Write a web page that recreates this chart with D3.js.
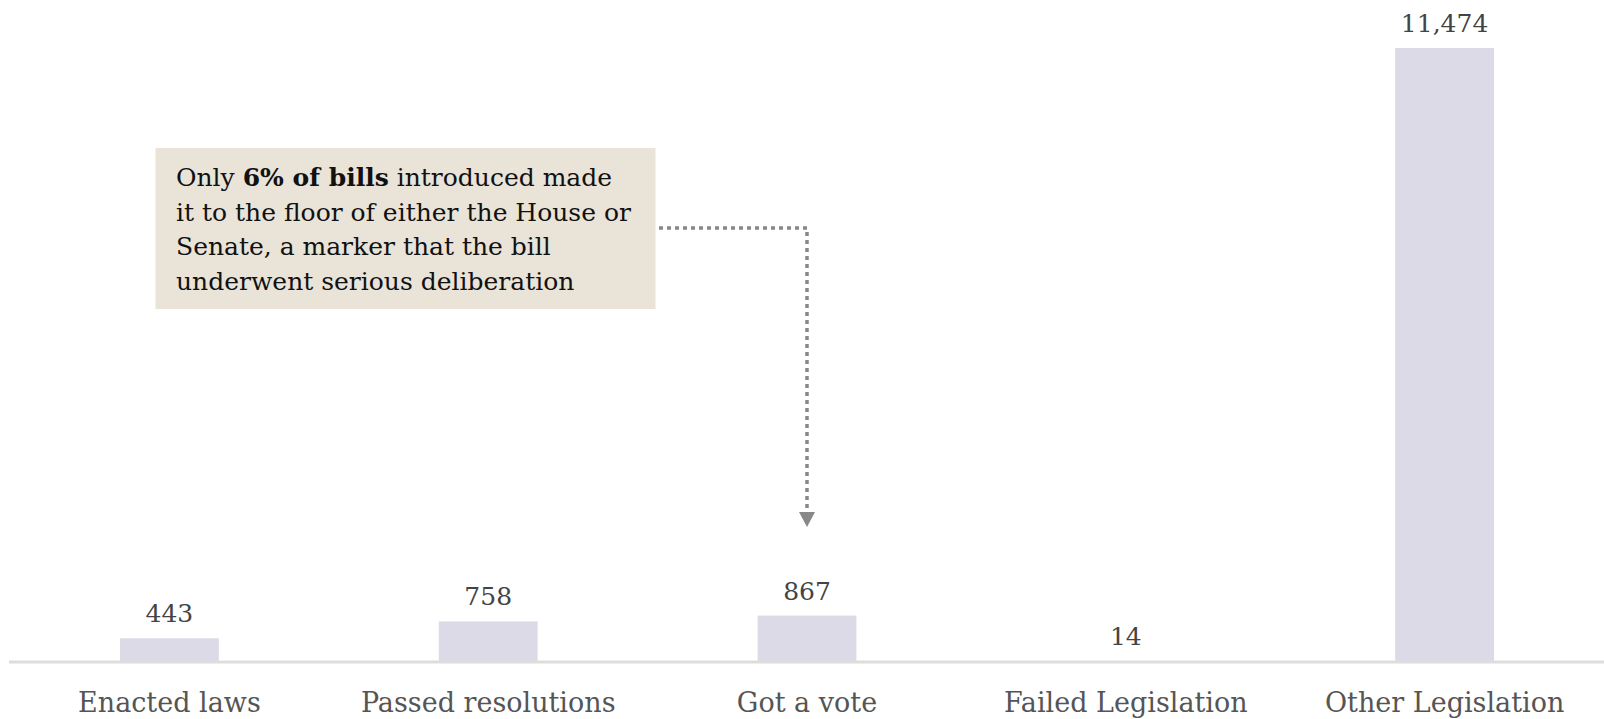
<!DOCTYPE html>
<html>
<head>
<meta charset="utf-8">
<script src="https://cdn.jsdelivr.net/npm/d3@7"></script>
<style>
  html, body { margin: 0; padding: 0; background: #fff; }
  svg { display: block; }
  text { font-family: "DejaVu Serif", "Liberation Serif", serif; }
</style>
</head>
<body>
<svg id="chart" width="1604" height="719"></svg>
<script>
// Bill outcomes breakdown
const categories = ["Enacted laws", "Passed resolutions", "Got a vote", "Failed Legislation", "Other Legislation"];
const counts = [443, 758, 867, 14, 11474];
const noteLines = [
  [["Only ", false], ["6% of bills", true], [" introduced made", false]],
  [["it to the floor of either the House or", false]],
  [["Senate, a marker that the bill", false]],
  [["underwent serious deliberation", false]]
];
const noteTarget = "Got a vote";

const W = 1604, H = 719;
const margin = { left: 10, right: 0, top: 48, baseline: 662 };
const serif = "DejaVu Serif, Liberation Serif, serif";

const svg = d3.select("#chart");

const x = d3.scaleBand()
  .domain(categories)
  .range([margin.left, W - margin.right])
  .paddingInner(0.69)
  .paddingOuter(0.345);

const y = d3.scaleLinear()
  .domain([0, d3.max(counts)])
  .range([margin.baseline, margin.top]);

const data = categories.map((c, i) => ({ cat: c, value: counts[i] }));

// bars
svg.append("g").selectAll("rect")
  .data(data)
  .join("rect")
  .attr("x", d => x(d.cat))
  .attr("width", x.bandwidth())
  .attr("y", d => y(d.value))
  .attr("height", d => y(0) - y(d.value))
  .attr("fill", "#dcdae6");

// baseline axis
const axis = d3.axisBottom(x).tickSize(0).tickPadding(0);
const gx = svg.append("g")
  .attr("transform", `translate(0,${margin.baseline})`)
  .call(axis);
gx.select(".domain").attr("stroke", "#dddddd").attr("stroke-width", 3)
  .attr("d", `M${margin.left - 1},0H${W}`);
gx.selectAll(".tick text")
  .attr("y", 50)
  .attr("dy", 0)
  .attr("font-family", serif)
  .attr("font-size", 27)
  .attr("fill", "#555555");

// value labels
const fmt = d3.format(",");
svg.append("g").selectAll("text")
  .data(data)
  .join("text")
  .attr("x", d => x(d.cat) + x.bandwidth() / 2)
  .attr("y", d => y(d.value) - 16)
  .attr("text-anchor", "middle")
  .attr("font-size", 25)
  .attr("fill", "#444444")
  .text(d => fmt(d.value));

// annotation box
const note = svg.append("g");
note.append("rect")
  .attr("x", 155.5).attr("y", 148)
  .attr("width", 500).attr("height", 161)
  .attr("fill", "#e9e3d8");

const tx = note.append("text")
  .attr("x", 176).attr("y", 186)
  .attr("font-size", 25)
  .attr("fill", "#111111");
noteLines.forEach((line, i) => {
  line.forEach(([s, bold], j) => {
    const t = tx.append("tspan").text(s);
    if (j === 0) t.attr("x", 176).attr("dy", i === 0 ? 0 : 34.7);
    if (bold) t.attr("font-weight", "bold");
  });
});

// leader from the note down to the target bar
const cx = x(noteTarget) + x.bandwidth() / 2;
const lineY = 228;
const arrowTip = 527;
svg.append("path")
  .attr("d", `M659,${lineY}H${cx}V${arrowTip - 16}`)
  .attr("fill", "none")
  .attr("stroke", "#888888")
  .attr("stroke-width", 3.5)
  .attr("stroke-dasharray", "4 4");
svg.append("path")
  .attr("d", `M${cx - 8},${arrowTip - 15}L${cx + 8},${arrowTip - 15}L${cx},${arrowTip}Z`)
  .attr("fill", "#888888");
</script>
</body>
</html>
